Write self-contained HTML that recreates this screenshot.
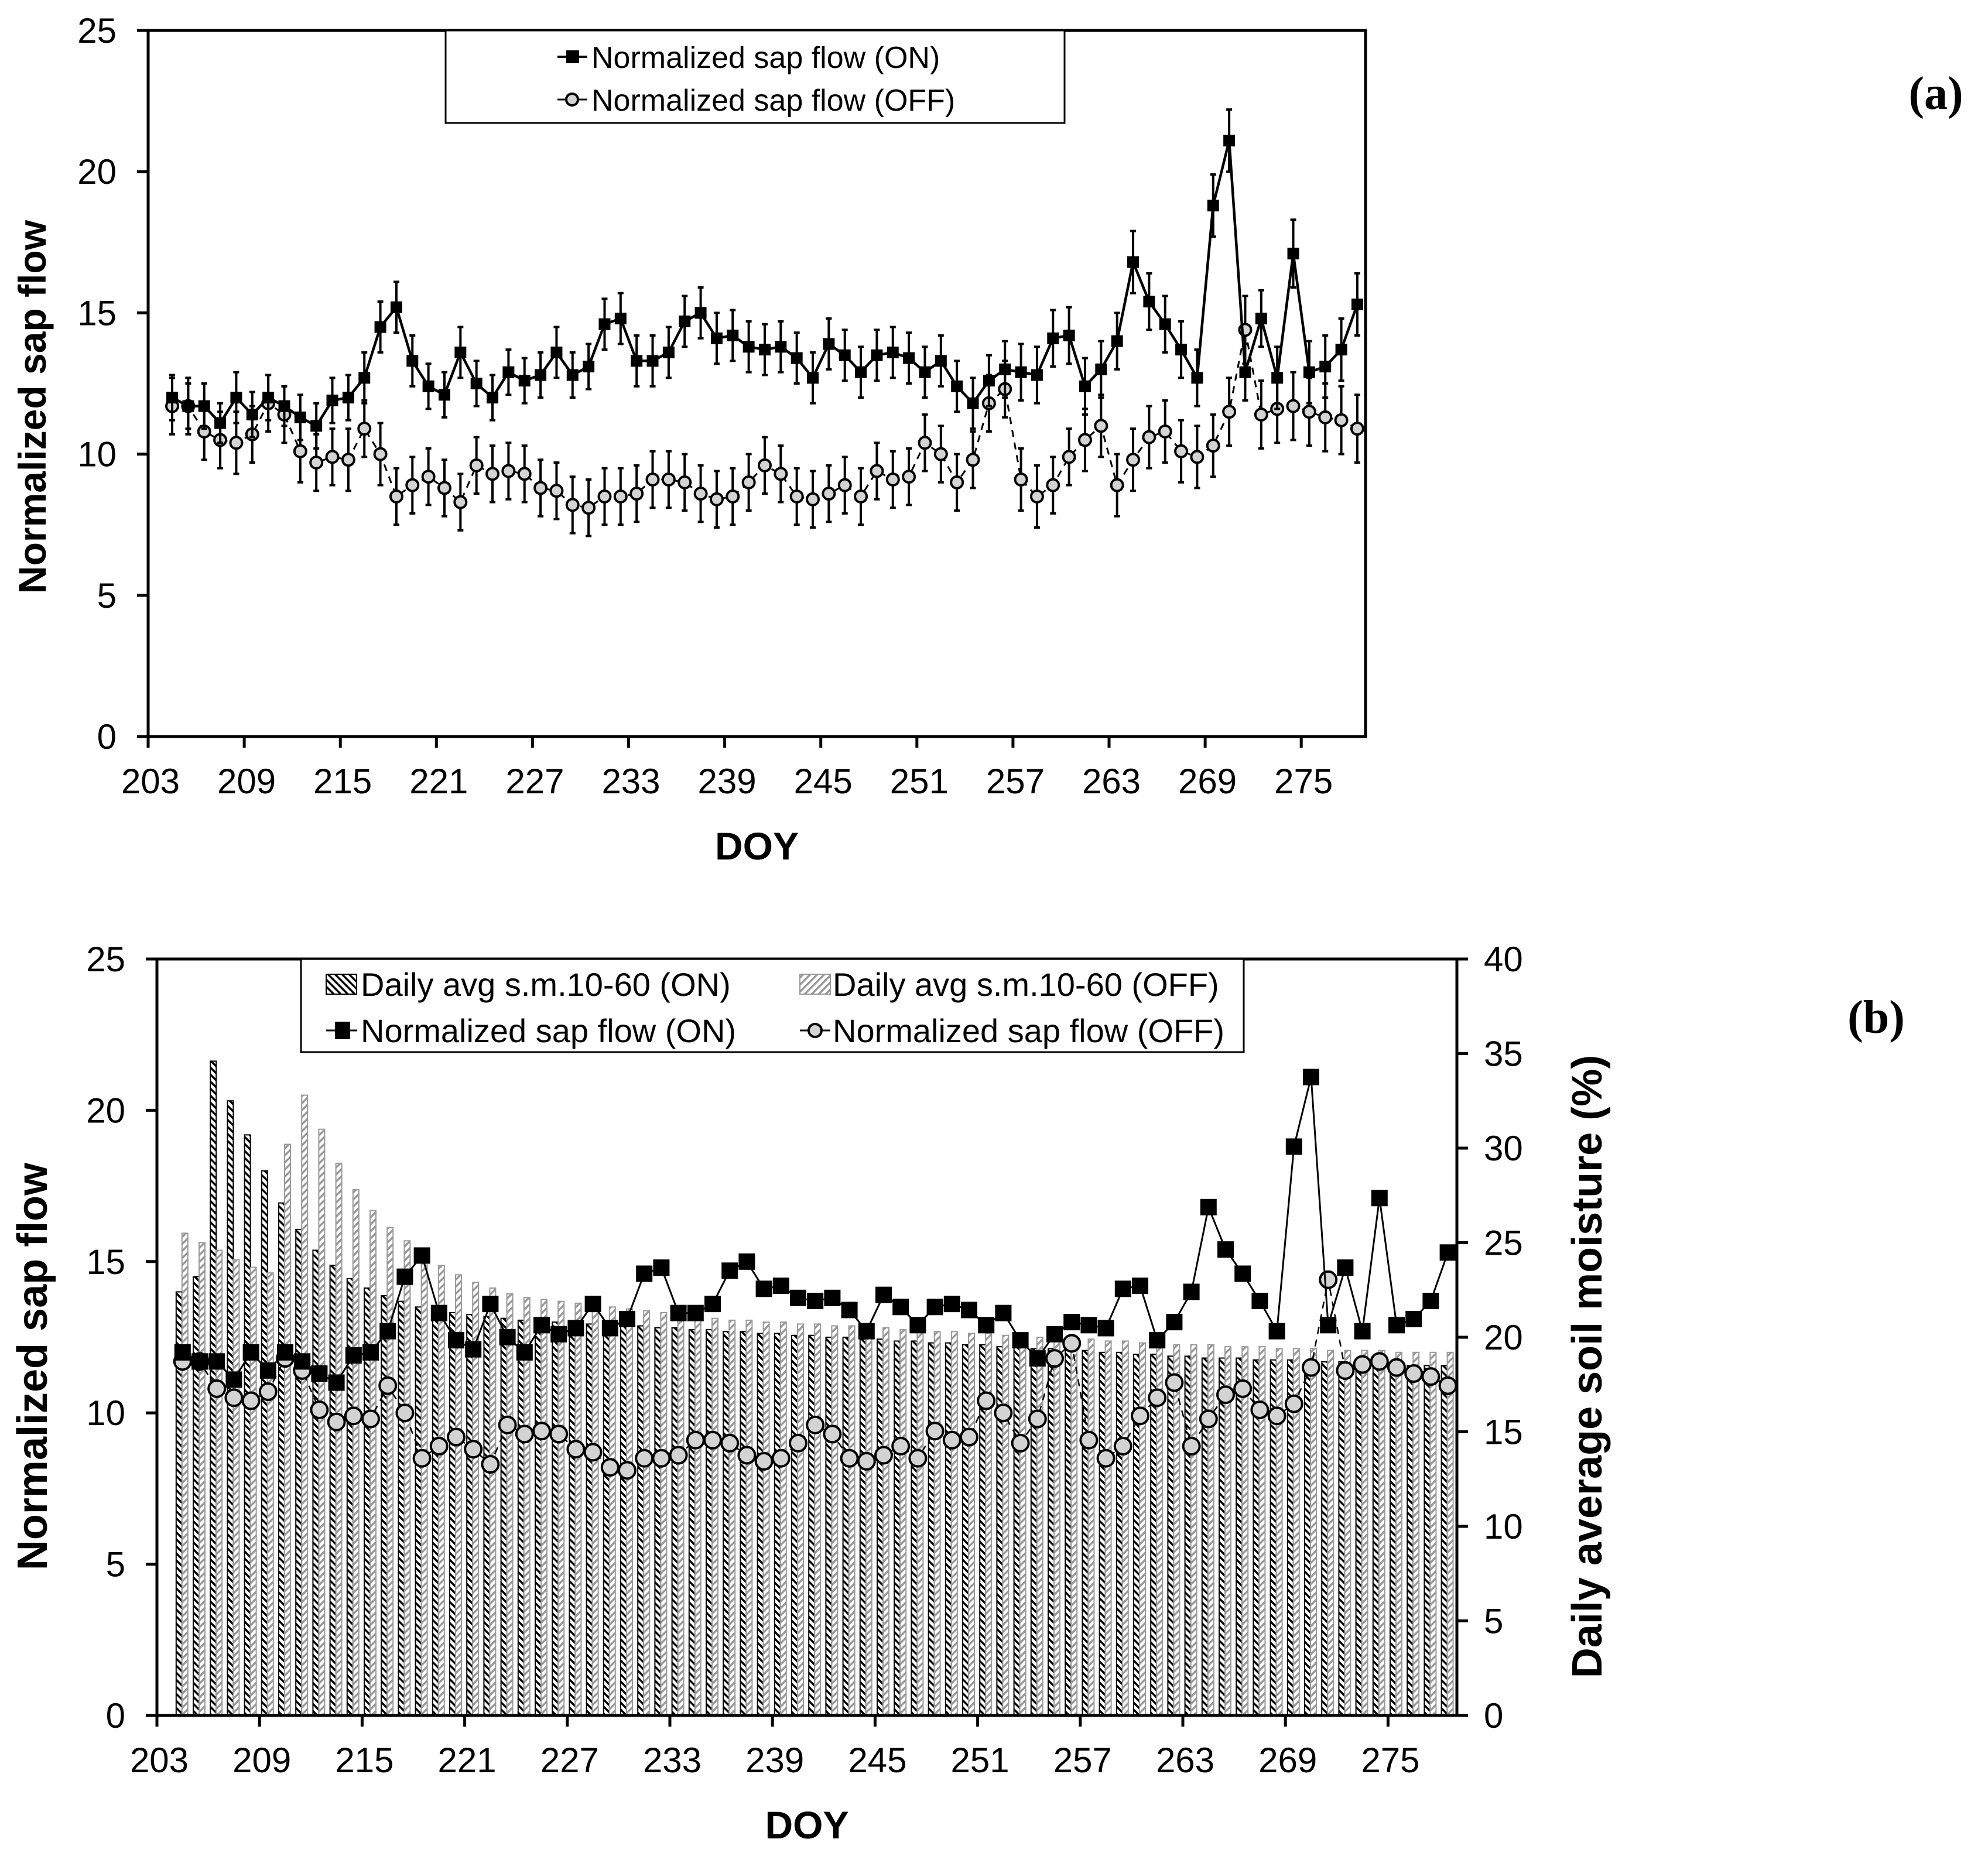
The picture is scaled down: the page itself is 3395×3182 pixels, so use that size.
<!DOCTYPE html>
<html><head><meta charset="utf-8"><style>
html,body{margin:0;padding:0;background:#fff;}
svg{display:block;font-family:"Liberation Sans",Arial,sans-serif;}
</style></head><body>
<svg id="chart" width="3395" height="3182" viewBox="0 0 3395 3182" xmlns="http://www.w3.org/2000/svg">
<defs>
<pattern id="hatchOn" patternUnits="userSpaceOnUse" width="12" height="12">
<rect width="12" height="12" fill="#fff"/>
<path d="M0,0 L12,12 M-6,6 L6,18 M6,-6 L18,6" stroke="#000" stroke-width="3.5"/>
</pattern>
<pattern id="hatchOff" patternUnits="userSpaceOnUse" width="12" height="12">
<rect width="12" height="12" fill="#fff"/>
<path d="M0,12 L12,0 M-6,6 L6,-6 M6,18 L18,6" stroke="#999" stroke-width="3.5"/>
</pattern>
</defs>
<g id="panelA"></g>
<g id="panelB"></g>
</svg>
<script>
const days = [204,205,206,207,208,209,210,211,212,213,214,215,216,217,218,219,220,221,222,223,224,225,226,227,228,229,230,231,232,233,234,235,236,237,238,239,240,241,242,243,244,245,246,247,248,249,250,251,252,253,254,255,256,257,258,259,260,261,262,263,264,265,266,267,268,269,270,271,272,273,274,275,276,277,278];
const sapOn = [12.0,11.7,11.7,11.1,12.0,11.4,12.0,11.7,11.3,11.0,11.9,12.0,12.7,14.5,15.2,13.3,12.4,12.1,13.6,12.5,12.0,12.9,12.6,12.8,13.6,12.8,13.1,14.6,14.8,13.3,13.3,13.6,14.7,15.0,14.1,14.2,13.8,13.7,13.8,13.4,12.7,13.9,13.5,12.9,13.5,13.6,13.4,12.9,13.3,12.4,11.8,12.6,13.0,12.9,12.8,14.1,14.2,12.4,13.0,14.0,16.8,15.4,14.6,13.7,12.7,18.8,21.1,12.9,14.8,12.7,17.1,12.9,13.1,13.7,15.3];
const sapOff = [11.7,11.7,10.8,10.5,10.4,10.7,11.8,11.4,10.1,9.7,9.9,9.8,10.9,10.0,8.5,8.9,9.2,8.8,8.3,9.6,9.3,9.4,9.3,8.8,8.7,8.2,8.1,8.5,8.5,8.6,9.1,9.1,9.0,8.6,8.4,8.5,9.0,9.6,9.3,8.5,8.4,8.6,8.9,8.5,9.4,9.1,9.2,10.4,10.0,9.0,9.8,11.8,12.3,9.1,8.5,8.9,9.9,10.5,11.0,8.9,9.8,10.6,10.8,10.1,9.9,10.3,11.5,14.4,11.4,11.6,11.7,11.5,11.3,11.2,10.9];
const errOn = [0.8,0.8,0.8,0.7,0.9,0.8,0.8,0.7,0.8,0.8,0.8,0.8,0.9,0.9,0.9,0.9,0.8,0.8,0.9,0.8,0.8,0.8,0.8,0.8,0.9,0.8,0.8,0.9,0.9,0.9,0.9,0.9,0.9,0.9,0.9,0.9,0.9,0.9,0.9,0.9,0.9,0.9,0.9,0.9,0.9,0.9,0.9,0.9,0.9,0.9,0.9,0.9,1.0,1.0,1.0,1.0,1.0,1.0,1.0,1.0,1.1,1.0,1.0,1.0,1.0,1.1,1.1,1.0,1.0,1.1,1.2,1.1,1.1,1.1,1.1];
const errOff = [1.0,1.0,1.0,1.0,1.1,1.0,1.0,1.0,1.1,1.0,1.0,1.1,1.0,1.1,1.0,1.0,1.0,1.0,1.0,1.0,1.0,1.0,1.0,1.0,1.0,1.0,1.0,1.0,1.0,1.0,1.0,1.0,1.0,1.0,1.0,1.0,1.0,1.0,1.0,1.0,1.0,1.0,1.0,1.0,1.0,1.0,1.0,1.0,1.0,1.0,1.0,1.0,1.0,1.1,1.1,1.0,1.0,1.1,1.1,1.1,1.1,1.1,1.1,1.1,1.1,1.1,1.2,1.2,1.2,1.2,1.2,1.2,1.2,1.2,1.2];
const soilOn = [22.4,23.2,34.6,32.5,30.7,28.8,27.1,25.7,24.6,23.8,23.1,22.6,22.2,21.9,21.6,21.4,21.3,21.2,21.1,21.0,20.9,20.9,20.8,20.8,20.7,20.7,20.6,20.6,20.5,20.5,20.4,20.4,20.3,20.3,20.2,20.2,20.1,20.1,20.0,20.0,19.9,19.9,19.8,19.8,19.7,19.7,19.6,19.6,19.5,19.5,19.4,19.4,19.3,19.3,19.2,19.2,19.1,19.1,19.0,19.0,18.9,18.9,18.9,18.8,18.8,18.8,18.7,18.7,18.7,18.6,18.6,18.6,18.5,18.5,18.5];
const soilOff = [25.5,25.0,24.6,24.1,23.7,23.4,30.2,32.8,31.0,29.2,27.8,26.7,25.8,25.1,24.3,23.8,23.3,22.9,22.6,22.3,22.1,22.0,21.9,21.8,21.7,21.6,21.5,21.4,21.3,21.2,21.1,21.0,20.9,20.9,20.8,20.8,20.7,20.7,20.6,20.6,20.5,20.5,20.4,20.4,20.3,20.3,20.2,20.2,20.1,20.1,20.0,20.0,19.9,19.9,19.8,19.8,19.7,19.7,19.6,19.6,19.6,19.5,19.5,19.5,19.4,19.4,19.4,19.3,19.3,19.3,19.3,19.2,19.2,19.2,19.2];
const xTicks = [203,209,215,221,227,233,239,245,251,257,263,269,275];
const yTicksLeft = [0,5,10,15,20,25];
const yTicksRight = [0,5,10,15,20,25,30,35,40];

const NS = "http://www.w3.org/2000/svg";
function mk(parent, tag, attrs, text){
  const e = document.createElementNS(NS, tag);
  for (const k in attrs) e.setAttribute(k, attrs[k]);
  if (text !== undefined) e.textContent = text;
  parent.appendChild(e);
  return e;
}

function drawPanel(g, P, isB){
  const sx = d => P.x0 + (d - 203) * P.pxDay;
  const sy = v => P.yBot - v * (P.yBot - P.yTop) / 25;
  const sy2 = v => P.yBot - v * (P.yBot - P.yTop) / 40;

  if (isB){
    const bg = mk(g,'g',{});
    
    
    days.forEach((d,i)=>{
      const cx = sx(d+0.5);
      const r1 = mk(bg,'rect',{x:cx-11,y:sy2(soilOn[i]),width:10,height:P.yBot-sy2(soilOn[i]),fill:'url(#hatchOn)',stroke:'#000','stroke-width':2});
      
      
      const r2 = mk(bg,'rect',{x:cx-1,y:sy2(soilOff[i]),width:10,height:P.yBot-sy2(soilOff[i]),fill:'url(#hatchOff)',stroke:'#999','stroke-width':2});
      
      
    });
  }

  const fr = mk(g,'rect',{x:P.x0,y:P.yTop,width:P.x1-P.x0,height:P.yBot-P.yTop,fill:'none',stroke:'#000','stroke-width':5});
  
  

  const xa = mk(g,'g',{});
  
  
  xTicks.forEach(t=>{
    const x = sx(t);
    mk(xa,'line',{x1:x,y1:P.yBot,x2:x,y2:P.yBot+19,stroke:'#000','stroke-width':5});
    const tl = mk(xa,'text',{x:x+4,y:P.yBot+97,'font-size':60,'text-anchor':'middle'},t);
    
    
  });
  const ya = mk(g,'g',{});
  
  
  yTicksLeft.forEach(t=>{
    const y = sy(t);
    mk(ya,'line',{x1:P.x0-19,y1:y,x2:P.x0,y2:y,stroke:'#000','stroke-width':5});
    const tl = mk(ya,'text',{x:P.x0-54,y:y+21,'font-size':60,'text-anchor':'end'},t);
    
    
  });
  if (isB){
    const ra = mk(g,'g',{});
    
    
    yTicksRight.forEach(t=>{
      const y = sy2(t);
      mk(ra,'line',{x1:P.x1,y1:y,x2:P.x1+19,y2:y,stroke:'#000','stroke-width':5});
      const tl = mk(ra,'text',{x:P.x1+46,y:y+21,'font-size':60,'text-anchor':'start'},t);
      
      
    });
    const rt = mk(g,'text',{x:0,y:0,'font-size':72,'font-weight':'bold','text-anchor':'middle',transform:`translate(2735,${(P.yTop+P.yBot)/2+50}) rotate(-90)`},'Daily average soil moisture (%)');
    
    
  }

  const offG = mk(g,'g',{});
  
  
  const offPts = days.map((d,i)=>sx(d+0.5)+','+sy(sapOff[i])).join(' ');
  mk(offG,'polyline',{points:offPts,fill:'none',stroke:'#000','stroke-width':isB?2.5:3,'stroke-dasharray':'12,10'});
  const onG = mk(g,'g',{});
  
  
  const onPts = days.map((d,i)=>sx(d+0.5)+','+sy(sapOn[i])).join(' ');
  mk(onG,'polyline',{points:onPts,fill:'none',stroke:'#000','stroke-width':isB?3:4.5});

  days.forEach((d,i)=>{
    const x = sx(d+0.5);
    if (!isB){
      [[sapOn[i],errOn[i]],[sapOff[i],errOff[i]]].forEach(([v,e],k)=>{
        const eb = mk(k?offG:onG,'g',{});
        
        
        mk(eb,'line',{x1:x,y1:sy(v-e),x2:x,y2:sy(v+e),stroke:'#000','stroke-width':4});
        mk(eb,'line',{x1:x-5,y1:sy(v-e),x2:x+5,y2:sy(v-e),stroke:'#000','stroke-width':4});
        mk(eb,'line',{x1:x-5,y1:sy(v+e),x2:x+5,y2:sy(v+e),stroke:'#000','stroke-width':4});
      });
    }
    const rr = isB?14:10;
    const c = mk(offG,'circle',{cx:x,cy:sy(sapOff[i]),r:rr,fill:'#d3d3d3',stroke:'#000','stroke-width':4});
    
    
  });
  days.forEach((d,i)=>{
    const x = sx(d+0.5);
    const s = isB?28:20;
    const r = mk(onG,'rect',{x:x-s/2,y:sy(sapOn[i])-s/2,width:s,height:s,fill:'#000'});
    
    
  });

  const yt = mk(g,'text',{x:0,y:0,'font-size':isB?72:66,'font-weight':'bold','text-anchor':'middle',transform:`translate(${isB?80:78},${(P.yTop+P.yBot)/2+(isB?50:40)}) rotate(-90)`},'Normalized sap flow');
  
  
  const xt = mk(g,'text',{x:(P.x0+P.x1)/2,y:P.yBot+210,'font-size':66,'font-weight':'bold','text-anchor':'middle'},'DOY');
  
  
  return {sx,sy};
}

const gA = document.getElementById('panelA');
drawPanel(gA,{x0:253,x1:2332,yTop:52,yBot:1258,pxDay:27.35},false);
const gB = document.getElementById('panelB');
drawPanel(gB,{x0:268,x1:2488,yTop:1638,yBot:2930,pxDay:29.2},true);

const la = mk(gA,'g',{});


mk(la,'rect',{x:761,y:52,width:1057,height:158,fill:'#fff',stroke:'#000','stroke-width':3});
const la1 = mk(la,'g',{});


mk(la1,'line',{x1:952,y1:97,x2:1003,y2:97,stroke:'#000','stroke-width':4});
mk(la1,'rect',{x:967,y:86,width:22,height:22,fill:'#000'});
mk(la1,'text',{x:1010,y:116,'font-size':52},'Normalized sap flow (ON)');
const la2 = mk(la,'g',{});


mk(la2,'line',{x1:952,y1:170,x2:1003,y2:170,stroke:'#000','stroke-width':3});
mk(la2,'circle',{cx:977,cy:170,r:10,fill:'#d3d3d3',stroke:'#000','stroke-width':4});
mk(la2,'text',{x:1010,y:189,'font-size':52},'Normalized sap flow (OFF)');

const lb = mk(gB,'g',{});


mk(lb,'rect',{x:514,y:1638,width:1610,height:159,fill:'#fff',stroke:'#000','stroke-width':3});
const lb1 = mk(lb,'g',{});


mk(lb1,'rect',{x:557,y:1664,width:52,height:34,fill:'url(#hatchOn)',stroke:'#000','stroke-width':2});
mk(lb1,'text',{x:616,y:1701,'font-size':56},'Daily avg s.m.10-60 (ON)');
const lb2 = mk(lb,'g',{});


mk(lb2,'rect',{x:1366,y:1664,width:52,height:34,fill:'url(#hatchOff)',stroke:'#999','stroke-width':2});
mk(lb2,'text',{x:1422,y:1701,'font-size':56},'Daily avg s.m.10-60 (OFF)');
const lb3 = mk(lb,'g',{});


mk(lb3,'line',{x1:557,y1:1760,x2:610,y2:1760,stroke:'#000','stroke-width':3});
mk(lb3,'rect',{x:572,y:1745,width:26,height:30,fill:'#000'});
mk(lb3,'text',{x:616,y:1780,'font-size':56},'Normalized sap flow (ON)');
const lb4 = mk(lb,'g',{});


mk(lb4,'line',{x1:1366,y1:1760,x2:1418,y2:1760,stroke:'#000','stroke-width':3});
mk(lb4,'circle',{cx:1392,cy:1760,r:11,fill:'#d3d3d3',stroke:'#000','stroke-width':4});
mk(lb4,'text',{x:1422,y:1780,'font-size':56},'Normalized sap flow (OFF)');

const pa = mk(gA,'text',{x:3306,y:186,'font-size':80,'font-weight':'bold','font-family':'Liberation Serif, serif','text-anchor':'middle'},'(a)');


const pb = mk(gB,'text',{x:3204,y:1764,'font-size':80,'font-weight':'bold','font-family':'Liberation Serif, serif','text-anchor':'middle'},'(b)');


</script>
</body></html>
